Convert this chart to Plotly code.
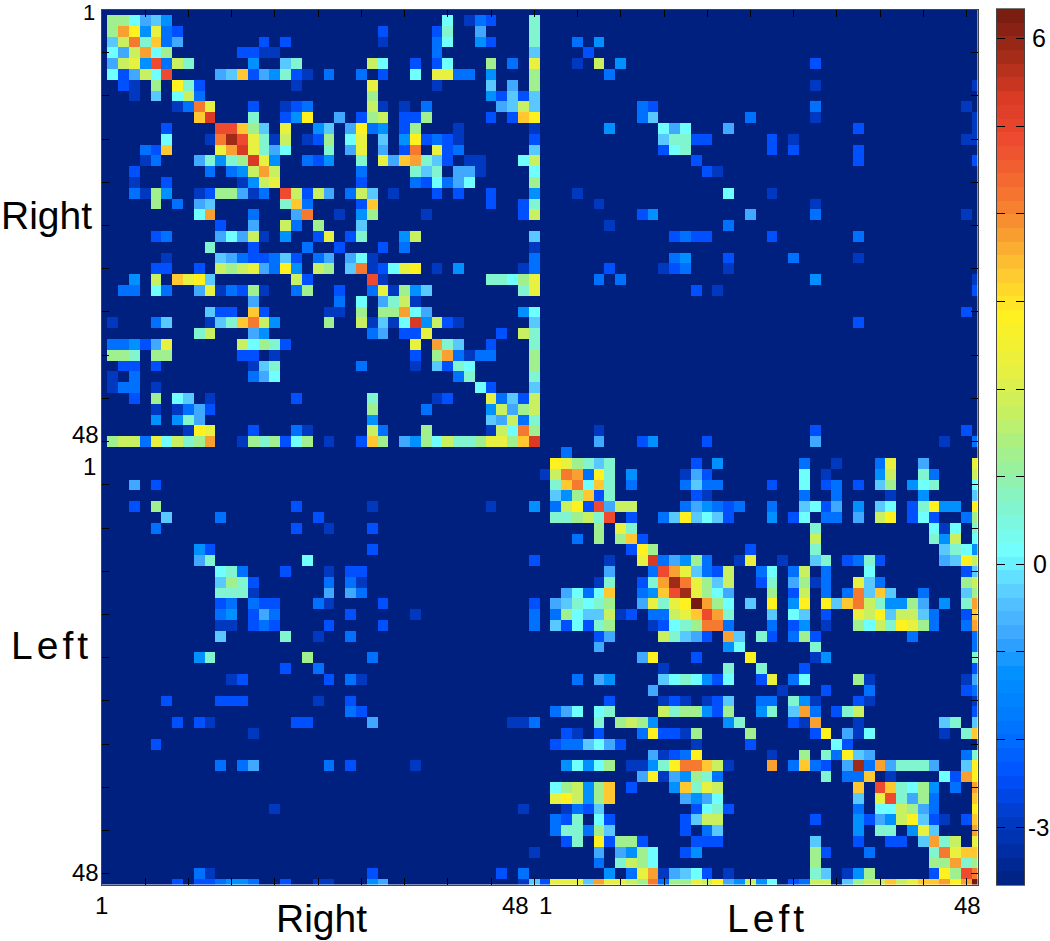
#!/usr/bin/env python
"""Connectivity matrix (Right / Left hemispheres) with a jet-like colour bar."""

import plotly.graph_objects as go

W, H = 1050, 941

# value of each colour level ('.' is background)
LEVELS = {
    ".": -3.66, "a": -2.96, "b": -2.41, "c": -1.96, "d": -1.26, "e": -0.76,
    "f": -0.36, "g": 0.14, "h": 0.64, "i": 1.24, "j": 1.74, "k": 2.24,
    "l": 2.84, "m": 3.34, "n": 3.74, "o": 4.14, "p": 4.84, "q": 5.34,
    "r": 5.84, "s": 6.34,
}

# sparse rows: "<column><level>"
RIGHT_RIGHT = [
    "0i 1i 2g 3e 4f 5d 31g 33a 34c 35b 39h",
    "0i 1n 2l 3d 4k 5c 6b 25b 30b 31h 34e 39h",
    "0f 1j 2o 3h 4m 5c 6e 14b 16b 25a 30c 31g 34d 35b 39h",
    "0g 1e 2j 3n 4g 5i 12b 13b 14a 15a 30c 39f",
    "0e 1j 2k 3d 4p 5c 6j 7h 13d 16f 17h 24j 25g 28b 30b 31g 35i 37c 39k",
    "0g 1b 2e 3j 4g 5p 10e 11f 12m 13b 14e 15d 16h 17b 18a 20c 23c 25b 28g 30k 31k 32c 33c 35d 39i",
    "1b 2a 4i 6l 7h 8b 17a 24k 30a 35f 37e 39i",
    "2a 4f 6g 7j 8c 24i 35d 36b 37f 38b 39f",
    "6a 7c 8o 9k 13b 16a 17b 18c 24j 25a 27a 29c 36e 37f 38j 39f",
    "8m 9q 13h 16b 17d 18l 21e 23b 24i 25j 27b 28b 29i 35b 37b 38m 39l",
    "5b 10p 11p 12m 13i 14f 16k 19d 20f 22e 23l 24c 25d 27b 28i 32a 39a",
    "5g 9a 10o 11r 12p 13k 14h 15a 16j 18a 19b 20i 22g 23k 25f 27d 28l 29b 30c 31b 32a 39b",
    "3c 4b 5m 10k 11n 12q 13k 14h 15e 16g 20h 22e 23k 25e 27b 28o 30k 31b 32c 39f",
    "3a 4c 8e 9h 10d 11h 12i 13q 14k 15d 18c 19b 20d 23h 25k 26e 27m 28n 29h 30f 31b 33a 34a 38g 39j",
    "2b 9c 11c 12d 13j 14n 15j 23c 28h 29f 30h 32e 33e 34a 39g",
    "2a 5b 12a 13d 14j 15k 23b 28c 29b 30g 31c 32e 33g 39i",
    "2c 3a 4i 5d 8a 9b 10i 11i 12e 13a 14c 16p 17j 18b 19j 20e 22c 23j 24f 26a 30b 32b 35b 39d",
    "4i 6c 8e 9f 16h 17m 18c 23b 24m 35b 38b 39h",
    "8g 9n 13c 17e 18o 21a 23d 24i 29a 38b 39j",
    "10b 13e 16j 17c 19i 23f",
    "4b 5c 10e 11g 12e 13j 14a 16d 19b 20k 22b 23h 27d 28j 39f",
    "9h 13b 18c 21b 25b 27c 39a",
    "5a 10f 11e 12c 13b 14b 15c 16f 17b 19c 20e 22e 23g 24a 39c",
    "4b 5b 8b 10j 11i 12j 13k 14e 15c 16l 17d 19j 20i 22f 23o 24a 25b 26g 27k 28l 30a 32d 38a 39c",
    "2d 4j 6m 7k 8l 9f 17j 18b 24p 25a 35h 36h 37g 38i 39k",
    "1c 2c 4g 5c 8e 9k 10a 11c 12b 13i 14a 17c 18i 21b 24c 25k 26a 27i 28d 29f 38h 39k",
    "13e 21c 23g 25e 26h 27j 28a",
    "9f 10b 11b 13m 14b 20a 21a 23i 25i 26i 27n 28g 29e 38d 39g",
    "0a 4c 5f 9a 10f 11h 12m 13o 14j 15d 20i 23j 24a 25f 26a 27g 28q 29d 30j 31b 32a 39f",
    "8h 9j 13e 14d 24c 25e 27b 28b 29k 36b 38j 39h",
    "0c 1c 2d 3b 4e 5k 12j 13g 14i 15h 16b 28k 30n 31h 32f 35b 39h",
    "0i 1i 2h 4i 5i 12b 13b 15a 28b 30i 31n 32c 33a 34c 35c 39i",
    "1b 2b 4b 13a 14f 15h 23c 28a 30f 31b 32h 33g 39i",
    "0a 2c 13c 14e 15g 32c 33h 39h",
    "0a 1c 2c 4a 34g 35b 39f",
    "2b 4i 6g 7f 9a 17b 24h 30a 31b 35k 36c 37f 38b 39j",
    "4a 6a 7c 8e 9b 24i 29c 35d 36j 37e 38i 39j",
    "4d 6d 7h 8e 24d 35f 36e 37j 38c 39h",
    "7a 8l 9k 13b 17c 18a 24j 25c 29i 35a 36j 37g 38o 39i",
    "0i 1j 2j 3c 4k 5g 6j 7h 8i 9n 12a 13i 14h 15i 16b 17g 18i 20a 23b 24m 25i 27e 28d 29i 30g 31j 32h 33h 34i 35k 36k 37i 38m 39q",
]

RIGHT_LEFT = [
    "", "", "2c 4d", "3b", "2a 4j 6d 24b", "5c", "24a 39a", "",
    "8c 9b 24c 38a", "8c 9f 18c 24a 39a", "5d 10g 11e 12g 16e 28b 39a",
    "10f 11h 12h 13b 14b 20b 22a 38a 39a", "10b 11g 12h 20b 22b 28b",
    "13b 28b 39b", "14b 15a", "", "2a 16g 20a", "4a 24a",
    "8b 9d 18e 24c 38a", "5a 16c", "11b 12c 13b 14b 20b 28c", "",
    "11c 12d 16b 22c 28a", "5b 10a 11b 12c 16a", "4c 6c 24d 39a",
    "13b 15a 39b", "", "38b", "28b", "", "", "", "", "", "", "", "", "",
    "4a 24b 38b", "4e 8b 9d 14b 24e 36a 39c",
]

MIDDLE_ROW = "1c"

LEFT_RIGHT = [
    "", "40a", "2e 4b", "", "2b 4i 17b 24a 35a 39d", "5f 10c 19b",
    "4c 17b 20a 24b", "", "8d 9b 24b", "8e 9h 18g 39b",
    "10g 11h 12c 16b 20a 22b 23b", "10f 11i 12h 13b 20c 22c 23a",
    "10h 11h 12h 13a 20e 22e 23c", "10b 11c 13c 14b 15b 19c 20a 25b 39b",
    "10c 11d 13b 14e 15c 22b 28a 39c", "10a 11a 13b 14c 15b 20b 25b 39c",
    "10f 16h 19a 22c", "", "8d 9h 18i 24c", "16b 19c", "11a 12b 20b 22c 23a",
    "", "5b 10b 11b 12b 19a 22b", "22c 23b",
    "6b 8b 9a 17b 18b 24e 37a 38a 39c", "13a", "4b", "",
    "10c 12c 13e 20c 22b 28a", "", "", "", "15a 38a", "", "", "", "39a", "",
    "8c 9a 24b 36b 38c",
    "6b 8b 9b 10c 11d 12d 13c 16b 19a 20a 24d 25e 38a 39f 40b",
]

LEFT_LEFT = [
    "0l 1k 2i 3h 4f 5h 13b 15d 23c 26a 30c 31k 34e 39k",
    "0j 1o 2n 3c 4l 5h 7d 12a 13e 14b 23g 25a 30d 31j 34h 35c 39j",
    "0h 1m 2o 3g 4m 5h 7c 12c 13f 14c 15c 20b 23g 25b 26c 28b 30f 31i 33d 34g 35h 39g",
    "0f 1d 2i 3m 4b 5h 13b 14a 23c 26c 31a 34d 39f",
    "0c 1j 2l 3b 4p 5e 6j 7j 12c 13e 14d 15c 16b 17c 20c 23f 24g 25b 26e 28d 30f 31g 33b 34h 35l 36d 37d 39l",
    "0h 1h 2i 3j 4h 5p 7b 10c 11f 12l 13f 14g 15f 16b 20d 22b 23g 25c 26c 28e 30j 31l 33b 34g 35b 38c 39i",
    "4i 6k 7h 24h 35g 36a 37g 39h",
    "2c 4i 6i 7m 8b 24j 35h 36d 37j 39g",
    "7b 8l 9i 18b 24h 36f 37h 38g 39d",
    "5a 8k 9q 10c 11e 12d 13i 14c 17a 18k 21a 24f 25h 27b 28c 29h 30b 36e 37f 38l 39j",
    "5e 9c 10p 11n 12k 13f 14c 15b 16j 19c 20g 22c 23j 25c 29g 38b 39f",
    "4a 5h 8b 9h 10n 11r 12o 13k 14i 15f 16j 19b 20h 22e 23i 24a 25c 28k 29f 30c 38i 39j",
    "1e 2g 3c 4g 5m 8c 9d 10m 11p 12r 13k 14i 15g 16e 20i 22b 23j 25c 27c 28o 29f 30m 31f 34c 38f 39i",
    "0e 1f 2h 3g 4h 5i 8e 9k 10h 11k 12l 13s 14n 15i 16g 18f 20l 22d 23l 25l 26f 27m 28o 29j 30h 31d 32d 33i 34e 36d 38h 39n",
    "0c 1i 2g 3f 4f 5j 6a 7b 9c 10c 11j 12k 13m 14p 15n 16h 20f 22g 23f 25b 28k 29j 30l 31f 32j 33j 34f 35c 38b 39m",
    "0f 1b 2g 3b 4h 5i 9a 10b 11g 12h 13i 14o 15o 16c 20c 22b 23d 25a 28i 29g 30j 31h 32l 33k 34i 35c 38c 39n",
    "4b 5e 10j 11h 12f 13e 14b 16n 17f 19h 20b 22c 23i 24b 33c 39c",
    "4e 16d 17g 24h 39c",
    "8e 9l 13b 18l 24a 25d 39h",
    "10a 16h 19h 23b 39b",
    "2c 4e 5d 10f 11g 12h 13g 14d 15b 16g 19b 20k 22c 23g 28i 29a 38a 39e",
    "9e 21a 25b 29c 38b 39c",
    "5b 10a 11b 12a 14a 15b 16f 19c 20c 22h 23d 24a 28b 29a 39a",
    "0c 1e 2g 4g 5h 10j 11h 12i 13i 14d 15b 16i 19d 20h 22f 23n 24c 26b 27h 28j 39b",
    "4h 6i 7j 8i 9d 16d 17h 22b 23a 24n 28a 36f 37h 39f",
    "1b 2a 4b 8c 9l 10b 11b 12a 13i 18i 24b 25l 27e 28a 29g 36a 38h 39m",
    "0b 1c 2c 3f 4g 5e 6b 13a 18b 26g 27b",
    "9e 10a 11b 12c 13l 20a 23i 25h 26c 27l 28f 29e 38c 39h",
    "1d 2g 3d 4g 5i 7a 8a 9d 10h 11l 12o 13o 14m 15j 16a 20n 22c 23m 24c 25b 27e 28r 29c 30n 31e 32h 33h 34h 35e 38f 39l",
    "8e 9l 10a 11e 12d 13i 14h 15c 25h 27c 28c 29m 31a 36g 37b 38n 39l",
    "0g 1i 2j 3d 4i 5m 7b 11d 12m 13h 14k 15j 28m 30p 31m 32h 33g 34i 35d 37c 39n",
    "0k 1l 2j 3d 4i 5m 12e 13d 14e 15g 28f 30k 31p 32h 33e 34i 35c 39m",
    "1a 2c 3b 4f 13b 14g 15h 16b 28c 30g 31g 32j 33i 34e 35c 39l",
    "0c 1b 2h 4g 5b 12b 13f 14j 15j 24b 28d 29b 30e 31d 32j 33l 34f 35b 36a 38b 39m",
    "0c 1h 2h 3c 4i 5f 12b 14c 15f 28d 30h 31h 33d 34k 35f 39n",
    "1b 2h 4l 5b 6i 7i 8b 13b 14b 15b 24f 28b 31b 32b 34f 35n 36h 37j 39k",
    "4e 6e 7d 8i 9g 12b 13d 24i 25b 29c 35h 36o 37k 38m 39m",
    "4c 6h 7j 8i 9g 24i 35i 36i 37n 38h 39i",
    "5d 7c 8k 9n 10a 11e 12f 13g 14b 16a 24h 25f 27a 28d 29i 35b 36l 37i 38p 39o",
    "0k 1k 2k 3f 4n 5k 6k 7j 8i 9o 10c 11i 12i 13k 14j 15l 16e 17d 18j 19d 20g 22b 23c 24j 25j 27f 28i 29j 30j 31m 32j 33k 34m 35m 36n 37l 38n 39s",
]

JET_STOPS = [
    (0.0, "#00207f"), (0.07, "#0038c0"), (0.125, "#0050ff"), (0.17, "#0070ff"),
    (0.24, "#0090ff"), (0.29, "#40a8ff"), (0.33, "#58c8ff"), (0.38, "#70ffff"),
    (0.43, "#80f5d0"), (0.49, "#a0f090"), (0.54, "#c8f060"), (0.59, "#e8f040"),
    (0.65, "#fff020"), (0.70, "#ffc830"), (0.74, "#f8a030"), (0.78, "#f57a30"),
    (0.85, "#ee4a30"), (0.90, "#d83a25"), (0.95, "#a02a18"), (1.0, "#751a10"),
]
Z_MIN, Z_MAX = -3.66, 6.34
BAR_STEPS = 64

CBAR_TICKS = [-3, -2, -1, 0, 1, 2, 3, 4, 5, 6]
GRID_TICKS = list(range(4, 81, 4))


def fill(z, rows, row0, col0):
    for r, row in enumerate(rows):
        for item in row.split():
            z[row0 + r][col0 + int(item[:-1])] = LEVELS[item[-1]]


# 82 samples; the first and last ones are cut in half by the axis range
z = [[Z_MIN] * 82 for _ in range(82)]
fill(z, RIGHT_RIGHT, 1, 1)
fill(z, RIGHT_LEFT, 1, 42)
fill(z, [MIDDLE_ROW], 41, 42)
fill(z, LEFT_RIGHT, 42, 1)
fill(z, LEFT_LEFT, 42, 42)

bar_values = [Z_MIN + (Z_MAX - Z_MIN) * (i + 0.5) / BAR_STEPS for i in range(BAR_STEPS)]
colorscale = [[t, c] for t, c in JET_STOPS]

fig = go.Figure()
fig.add_trace(go.Heatmap(
    z=z, x=list(range(82)), y=list(range(82)),
    colorscale=colorscale, zmin=Z_MIN, zmax=Z_MAX,
    showscale=False, hoverinfo="skip",
))
fig.add_trace(go.Heatmap(
    z=[[v] for v in bar_values], x=[0], y=bar_values,
    colorscale=colorscale, zmin=Z_MIN, zmax=Z_MAX,
    showscale=False, hoverinfo="skip", xaxis="x2", yaxis="y2",
))


def px_x(x):
    return x / W


def px_y(y):
    return 1 - y / H


frame = dict(showline=True, linecolor="#444444", linewidth=1, mirror="ticks",
             ticks="inside", tickcolor="black", showgrid=False, zeroline=False,
             showticklabels=False)

fig.update_layout(
    width=W, height=H, margin=dict(l=0, r=0, t=0, b=0),
    paper_bgcolor="white", plot_bgcolor="white", showlegend=False,
    font=dict(family="Liberation Sans", color="black"),
    xaxis=dict(domain=[px_x(102), px_x(977.5)], range=[0, 81],
               tickvals=GRID_TICKS, ticklen=7, **frame),
    yaxis=dict(domain=[px_y(884.5), px_y(9.5)], range=[81, 0],
               tickvals=GRID_TICKS, ticklen=7, **frame),
    xaxis2=dict(domain=[px_x(997), px_x(1024)], range=[-0.5, 0.5], anchor="y2",
                showticklabels=False, showline=True, linecolor="#777777", mirror=True,
                ticks="", showgrid=False, zeroline=False),
    yaxis2=dict(domain=[px_y(885), px_y(9)], range=[Z_MIN, Z_MAX], anchor="x2", side="right",
                tickvals=CBAR_TICKS, ticklen=8, **frame),
)

LABELS = [
    ("1", 89, 12, 22), ("48", 85, 434, 24), ("1", 89, 466, 24), ("48", 85, 872, 24),
    ("1", 101, 905, 24), ("48", 515, 905, 24), ("1", 545, 905, 24), ("48", 967, 905, 24),
    ("6", 1039, 38, 25), ("0", 1040, 564, 25), ("-3", 1038, 827, 24),
    ("Right", 46, 215, 39), ("Left", 51, 645, 39), ("Right", 321, 918, 39), ("Left", 767, 918, 39),
]
for text, x, y, size in LABELS:
    fig.add_annotation(text=text, xref="paper", yref="paper", x=px_x(x), y=px_y(y),
                       xanchor="center", yanchor="middle", showarrow=False,
                       font=dict(size=size))

# the page margin and the spaced-out "Left" labels cannot be set from the layout
POST = """
document.body.style.margin = '0';
document.body.style.overflow = 'hidden';
document.querySelectorAll('.annotation-text').forEach(function (t) {
    if (t.textContent === 'Left') { t.style.letterSpacing = '4px'; }
});
"""

fig.write_html("out.html", config={"displayModeBar": False}, post_script=POST)
